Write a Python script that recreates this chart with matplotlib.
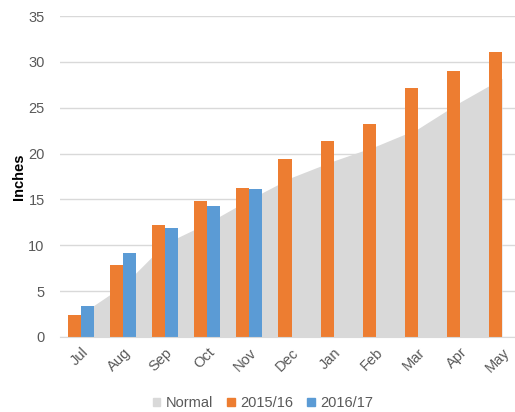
import matplotlib.pyplot as plt
import numpy as np
from matplotlib.patches import Patch

plt.rcParams['font.family'] = ['Liberation Sans', 'DejaVu Sans']

months = ['Jul', 'Aug', 'Sep', 'Oct', 'Nov', 'Dec', 'Jan', 'Feb', 'Mar', 'Apr', 'May']
normal = [2.5, 5.6, 10.2, 12.4, 15.0, 17.4, 19.2, 20.8, 22.7, 25.6, 28.2]
season_1516 = [2.4, 7.9, 12.2, 14.8, 16.2, 19.4, 21.4, 23.2, 27.2, 29.0, 31.1]
season_1617 = [3.4, 9.2, 11.9, 14.3, 16.1]

c_normal = '#D9D9D9'
c_1516 = '#ED7D31'
c_1617 = '#5B9BD5'
txt = '#595959'

fig = plt.figure(figsize=(5.15, 4.12), dpi=100)
ax = fig.add_axes([60 / 515, 75 / 412, 455 / 515, 321 / 412])

x = np.arange(len(months))
w = 0.31

# cumulative normal as a shaded area behind the bars
ax.fill_between(x, normal, 0, color=c_normal, lw=0, zorder=1.5)

ax.bar(x - w / 2, season_1516, w, color=c_1516, zorder=2)
x2 = np.arange(len(season_1617))
ax.bar(x2 + w / 2, season_1617, w, color=c_1617, zorder=2)

ax.set_xlim(-0.5, (515 - 81) / 42.1)
ax.set_ylim(0, 35)
ax.set_yticks(range(0, 36, 5))
ax.set_xticks(x)
ax.set_xticklabels(months, rotation=45, ha='right', va='top',
                   rotation_mode='anchor', fontsize=10.5, color=txt)
ax.tick_params(axis='x', length=0, pad=6)
ax.tick_params(axis='y', length=0, pad=11, labelsize=10.5, labelcolor=txt)

ax.grid(axis='y', color='#D9D9D9', lw=1)
ax.set_axisbelow(True)
for s in ['top', 'right', 'left']:
    ax.spines[s].set_visible(False)
ax.spines['bottom'].set_color('#D9D9D9')

ax.set_ylabel('Inches', fontsize=10.5, fontweight='bold', color='black', labelpad=2)

handles = [Patch(color=c_normal, label='Normal'),
           Patch(color=c_1516, label='2015/16'),
           Patch(color=c_1617, label='2016/17')]
fig.legend(handles=handles, loc='center', bbox_to_anchor=(263 / 515, 1 - 403 / 412),
           ncol=3, frameon=False, fontsize=10.5, handlelength=0.5, handleheight=0.5,
           handletextpad=0.35, columnspacing=1.0, labelcolor=txt)

fig.savefig('out.png', dpi=100)
